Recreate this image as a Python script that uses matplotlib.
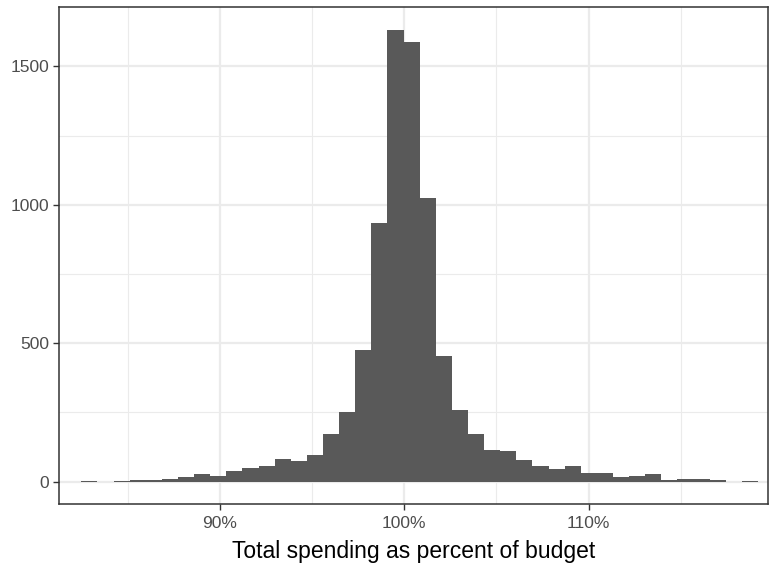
import matplotlib.pyplot as plt
import numpy as np

plt.rcParams['font.family'] = ['Liberation Sans', 'DejaVu Sans']

# ==================== 数据 ====================
bin_start = 82.48      # 第一个柱子的左边界 (%)
bin_width = 0.874      # 柱宽 (%)
counts = [3, 0, 3, 5, 6, 9, 17, 28, 20, 40, 49, 56, 82, 74, 96, 172, 252, 475,
          933, 1632, 1589, 1026, 453, 259, 172, 114, 111, 78, 56, 46, 57, 31,
          31, 17, 20, 28, 6, 9, 8, 6, 0, 2]
x_major = [90, 100, 110]
x_minor = [85, 95, 105, 115]
y_major = [0, 500, 1000, 1500]
y_minor = [250, 750, 1250]
x_label = 'Total spending as percent of budget'

lefts = bin_start + bin_width * np.arange(len(counts))

# ==================== 绘图 ====================
fig = plt.figure(figsize=(7.73, 5.64), dpi=100, facecolor='white')
ax = fig.add_axes([58.7 / 773, 1 - 504.3 / 564, (768.3 - 58.7) / 773, (504.3 - 7.3) / 564])
ax.set_facecolor('white')

# 网格（theme_bw 风格）
for v in x_minor:
    ax.axvline(v, color='#EBEBEB', lw=0.8, zorder=0)
for v in y_minor:
    ax.axhline(v, color='#EBEBEB', lw=0.8, zorder=0)
for v in x_major:
    ax.axvline(v, color='#EBEBEB', lw=1.6, zorder=0)
for v in y_major:
    ax.axhline(v, color='#EBEBEB', lw=1.6, zorder=0)

ax.bar(lefts, counts, width=bin_width, align='edge', color='#595959',
       edgecolor='none', linewidth=0, zorder=2)

ax.set_xlim(81.25, 119.75)
ax.set_ylim(-81.6, 1713.6)

ax.set_xticks(x_major)
ax.set_xticklabels([f'{v}%' for v in x_major])
ax.set_yticks(y_major)
ax.set_yticklabels([str(v) for v in y_major])
ax.tick_params(axis='both', length=4.5, width=1.0, color='#333333',
               labelcolor='#4D4D4D', labelsize=12.5, pad=2.5)
ax.tick_params(axis='x', pad=4)

for s in ax.spines.values():
    s.set_color('#333333')
    s.set_linewidth(1.1)
    s.set_zorder(5)

ax.set_xlabel(x_label, fontsize=16.5, color='black', labelpad=6.5)

plt.savefig('out.png', dpi=100, facecolor='white')
